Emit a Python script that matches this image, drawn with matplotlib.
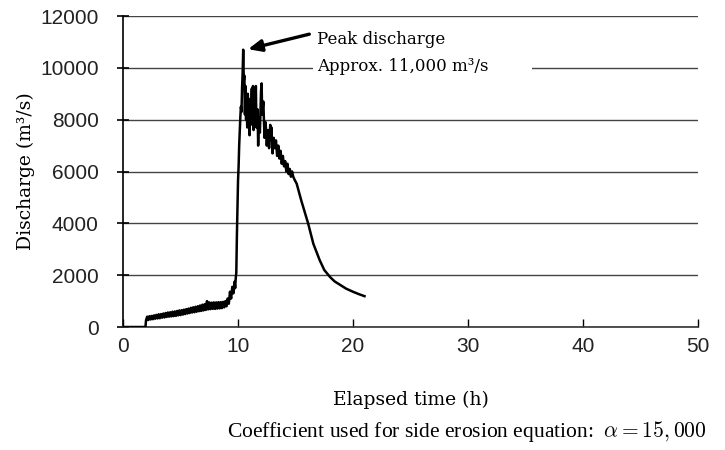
#!/usr/bin/env python3
"""Discharge hydrograph with peak annotation (side erosion coefficient alpha = 15,000)."""
import matplotlib
matplotlib.use("Agg")
import matplotlib.pyplot as plt
from matplotlib.patches import Rectangle

plt.rcParams["mathtext.fontset"] = "cm"

# elapsed time (h) and discharge (m3/s)
time_h = [
    0.0, 1.9, 1.95,
    2.0, 2.1, 2.2, 2.3, 2.4, 2.5, 2.6, 2.7, 2.8, 2.9,
    3.0, 3.1, 3.2, 3.3, 3.4, 3.5, 3.6, 3.7, 3.8, 3.9,
    4.0, 4.1, 4.2, 4.3, 4.4, 4.5, 4.6, 4.7, 4.8, 4.9,
    5.0, 5.1, 5.2, 5.3, 5.4, 5.5, 5.6, 5.7, 5.8, 5.9,
    6.0, 6.1, 6.2, 6.3, 6.4, 6.5, 6.6, 6.7, 6.8, 6.9,
    7.0, 7.1, 7.2, 7.3, 7.4, 7.5, 7.6, 7.7, 7.8, 7.9,
    8.0, 8.1, 8.2, 8.3, 8.4, 8.5, 8.6, 8.7, 8.8, 8.9,
    9.0, 9.1, 9.2, 9.3, 9.4, 9.5, 9.6, 9.7, 9.75, 9.8, 9.85, 9.9, 9.95,
    10.0, 10.05, 10.1, 10.15, 10.2, 10.25, 10.3, 10.35, 10.4, 10.45, 10.5,
    10.55, 10.6, 10.65, 10.7, 10.75, 10.8, 10.85, 10.9, 10.95, 11.0, 11.05,
    11.1, 11.2, 11.25, 11.3, 11.35, 11.4, 11.5, 11.55, 11.6, 11.7, 11.75,
    11.8, 11.9, 12.0, 12.05, 12.1, 12.2, 12.3, 12.4, 12.5, 12.6, 12.7,
    12.8, 12.85, 12.9, 13.0, 13.1, 13.2, 13.3, 13.4, 13.5, 13.6, 13.7,
    13.8, 13.9, 14.0, 14.1, 14.2, 14.3, 14.4, 14.5, 14.6, 14.7, 14.8,
    14.9, 15.1, 15.5, 16.1, 16.55, 17.1, 17.5, 18.0, 18.4, 18.9, 19.4,
    20.0, 20.5, 21.0,
]
discharge = [
    0, 0, 0,
    260, 400, 270, 420, 290, 430, 300, 450, 320, 470,
    330, 490, 340, 500, 360, 520, 370, 540, 390, 560,
    400, 570, 410, 590, 420, 600, 430, 620, 450, 640,
    460, 650, 480, 670, 500, 690, 520, 710, 540, 740,
    560, 760, 570, 780, 590, 800, 610, 830, 620, 860,
    640, 880, 660, 1000, 680, 950, 690, 940, 700, 950,
    700, 950, 710, 960, 720, 960, 730, 970, 760, 1000,
    800, 1100, 900, 1360, 1100, 1550, 1300, 1750, 1500, 1880, 2100, 3500, 4600,
    5650, 6200, 7000, 7600, 8100, 8500, 8300, 9200, 9800, 10700, 9500,
    9700, 8200, 9300, 8000, 8700, 7700, 9000, 8100, 8800, 7400, 8300,
    7800, 9200, 8000, 9300, 7600, 8800, 8200, 9300, 7700, 8400, 7000,
    8100, 7500, 9100, 9400, 8200, 8700, 7300, 7900, 7000, 7600, 6900,
    7800, 7300, 7700, 6700, 7300, 6900, 7200, 6600, 7000, 6500, 6800,
    6300, 6600, 6200, 6400, 6000, 6300, 5900, 6100, 5800, 6000, 5800,
    5700, 5530, 4880, 3990, 3210, 2580, 2200, 1930, 1760, 1620, 1480,
    1360, 1270, 1190,
]

x_ticks = [0, 10, 20, 30, 40, 50]
y_ticks = [0, 2000, 4000, 6000, 8000, 10000, 12000]

arrow_tip = (10.87, 10720)
arrow_tail = (16.2, 11300)
label_xy = (16.85, 11420)

fig = plt.figure(figsize=(7.25, 4.5), dpi=100)
ax = fig.add_axes([0.1697, 0.2733, 0.7931, 0.6911])

ax.plot(time_h, discharge, color="black", linewidth=1.8, zorder=3)

ax.set_xlim(0, 50)
ax.set_ylim(0, 12000)
ax.set_xticks(x_ticks)
ax.set_yticks(y_ticks)
ax.yaxis.grid(True, color="#444444", linewidth=1.0)
ax.set_axisbelow(True)

for side in ("top", "right"):
    ax.spines[side].set_visible(False)
ax.spines["left"].set_linewidth(1.2)
ax.spines["bottom"].set_linewidth(1.2)
ax.spines["bottom"].set_color("#333333")

ax.tick_params(axis="y", direction="inout", length=9, width=1.2, pad=13)
ax.tick_params(axis="x", direction="in", length=6, width=1.0, pad=7)
for lab in ax.get_xticklabels() + ax.get_yticklabels():
    lab.set_fontfamily("Liberation Sans")
    lab.set_fontsize(15)
    lab.set_color("#222222")

ax.set_xlabel("Elapsed time (h)", fontfamily="DejaVu Serif", fontsize=13.5, labelpad=25)
ax.set_ylabel("Discharge (m\u00b3/s)", fontfamily="DejaVu Serif", fontsize=13.5, labelpad=4)

# white text box behind the annotation breaks the 10000 gridline
ax.add_patch(Rectangle((16.5, 9800), 19.1, 400, facecolor="white",
                       edgecolor="none", zorder=2))
ax.text(label_xy[0], label_xy[1], "Peak discharge\nApprox. 11,000 m\u00b3/s",
        fontfamily="DejaVu Serif", fontsize=12, va="top", ha="left",
        linespacing=1.8, zorder=4)
ax.annotate("", xy=arrow_tip, xytext=arrow_tail,
            arrowprops=dict(arrowstyle="-|>,head_length=0.8,head_width=0.35",
                            color="black", linewidth=2.4, shrinkA=0, shrinkB=0),
            zorder=4)

fig.text(0.974, 0.029, r"Coefficient used for side erosion equation:  $\alpha = 15,000$",
         fontfamily="Liberation Serif", fontsize=15.5, ha="right", va="baseline")

fig.savefig("out.png", dpi=100)
